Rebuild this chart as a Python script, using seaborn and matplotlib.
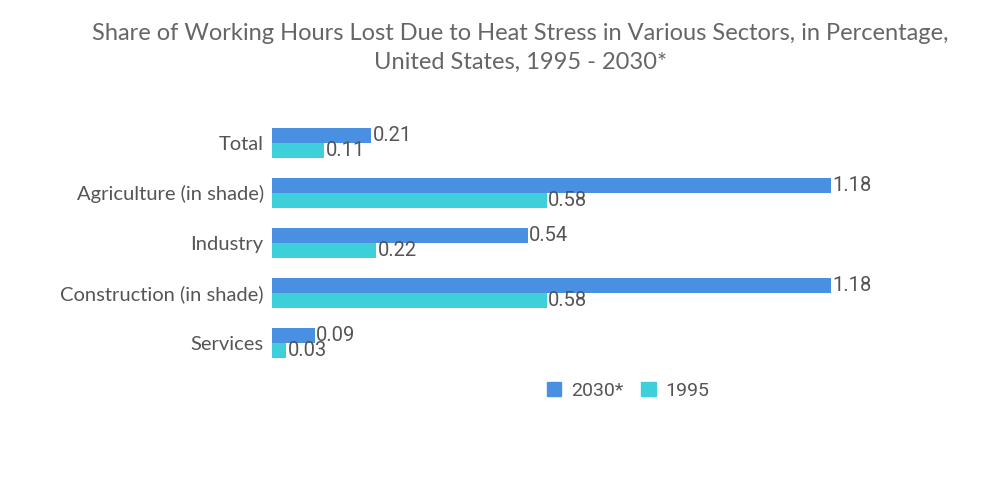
import matplotlib
matplotlib.use("Agg")
import matplotlib.pyplot as plt
import seaborn as sns
import pandas as pd

categories = ["Total", "Agriculture (in shade)", "Industry", "Construction (in shade)", "Services"]
values_2030 = [0.21, 1.18, 0.54, 1.18, 0.09]
values_1995 = [0.11, 0.58, 0.22, 0.58, 0.03]
series = ["2030*", "1995"]
colors = ["#4a90e2", "#3ed0da"]

rows = []
for c, v in zip(categories, values_2030):
    rows.append({"Sector": c, "Year": series[0], "Value": v})
for c, v in zip(categories, values_1995):
    rows.append({"Sector": c, "Year": series[1], "Value": v})
df = pd.DataFrame(rows)

sns.set_theme(style="white")
plt.rcParams["font.family"] = ["Roboto", "DejaVu Sans"]

fig = plt.figure(figsize=(10, 5.04), dpi=100)
ax = fig.add_axes([0.272, 0.27, 0.71, 0.496])
sns.barplot(data=df, y="Sector", x="Value", hue="Year", hue_order=series,
            order=categories, palette=colors, orient="h", width=0.6,
            saturation=1, linewidth=0, ax=ax)
ax.set_xlim(0, 1.5)
ax.set_ylim(4.5, -0.5)
for cont in ax.containers:
    ax.bar_label(cont, fmt="%.2f", padding=1, fontsize=14.5, color="#555555")
sns.despine(ax=ax, left=True, bottom=True)
ax.set_xticks([])
ax.set_xlabel("")
ax.set_ylabel("")
ax.tick_params(axis="y", length=0, pad=6, labelsize=14.5, labelcolor="#555555")
for lbl in ax.get_yticklabels():
    lbl.set_fontfamily(["Lato", "DejaVu Sans"])
ax.legend_.remove()
handles = [plt.Rectangle((0, 0), 1, 1, color=c) for c in colors]
fig.legend(handles, series, loc="center", bbox_to_anchor=(0.628, 0.225), ncol=2,
           frameon=False, fontsize=14, handlelength=0.75, handleheight=0.75,
           columnspacing=0.9, handletextpad=0.5, labelcolor="#555555")
fig.text(0.52, 0.905, "Share of Working Hours Lost Due to Heat Stress in Various Sectors, in Percentage,\nUnited States, 1995 - 2030*",
         ha="center", va="center", fontsize=17, color="#666666", family=["Lato", "DejaVu Sans"],
         linespacing=1.45)
fig.savefig("out.png", dpi=100)
